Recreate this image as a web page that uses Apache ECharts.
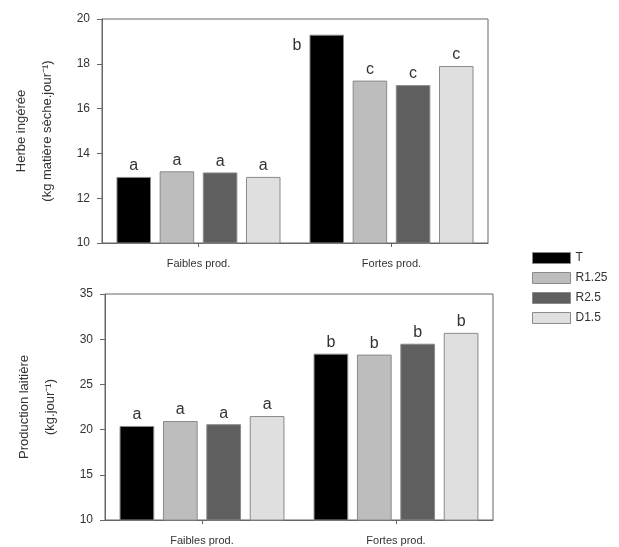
<!DOCTYPE html>
<html>
<head>
<meta charset="utf-8">
<script src="https://cdn.jsdelivr.net/npm/echarts@6/dist/echarts.min.js"></script>
<style>
  html, body { margin: 0; padding: 0; background: #fff; }
  #main { width: 619px; height: 547px; }
</style>
</head>
<body>
<div id="main"></div>
<script>
var categories = ['Faibles prod.', 'Fortes prod.'];
var traitements = ['T', 'R1.25', 'R2.5', 'D1.5'];
var couleurs = ['#000000', '#bdbdbd', '#5f5f5f', '#dfdfdf'];

// herbe ingérée (kg MS/jour)
var herbeT = [12.95, 19.3];
var herbeR125 = [13.2, 17.25];
var herbeR25 = [13.15, 17.05];
var herbeD15 = [12.95, 17.9];
var herbeLettres = [['a', 'b'], ['a', 'c'], ['a', 'c'], ['a', 'c']];

// production laitière (kg/jour)
var laitT = [20.4, 28.4];
var laitR125 = [20.95, 28.3];
var laitR25 = [20.6, 29.5];
var laitD15 = [21.5, 30.7];
var laitLettres = [['a', 'b'], ['a', 'b'], ['a', 'b'], ['a', 'b']];

var herbeTicks = [10, 12, 14, 16, 18, 20];
var laitTicks = [10, 15, 20, 25, 30, 35];

var herbe = [herbeT, herbeR125, herbeR25, herbeD15];
var lait = [laitT, laitR125, laitR25, laitD15];

var axisCol = '#666';
var textCol = '#333';
var font = 'Liberation Sans';

function makeSeries(values, letters, idx) {
    var out = [];
    for (var i = 0; i < 4; i++) {
        out.push({
            name: traitements[i],
            type: 'bar',
            xAxisIndex: idx,
            yAxisIndex: idx,
            barGap: '25%',
            barCategoryGap: '15%',
            itemStyle: { color: couleurs[i], borderColor: '#8a8a8a', borderWidth: 1 },
            label: {
                show: true,
                position: 'top',
                distance: 3,
                color: textCol,
                fontFamily: font,
                fontSize: 16,
                formatter: (function (l) {
                    return function (p) { return l[p.dataIndex]; };
                })(letters[i])
            },
            data: values[i].map(function (v, j) {
                // barre trop haute : lettre placée à gauche
                if (idx === 0 && i === 0 && j === 1) {
                    return { value: v, label: { position: [-17, 3] } };
                }
                return v;
            })
        });
    }
    return out;
}

function yAxis(ticks, idx, name) {
    return {
        type: 'value',
        gridIndex: idx,
        min: ticks[0],
        max: ticks[ticks.length - 1],
        interval: ticks[1] - ticks[0],
        name: name,
        nameLocation: 'middle',
        nameGap: 42,
        nameTextStyle: { color: textCol, fontFamily: font, fontSize: 13, lineHeight: 26 },
        axisLine: { show: true, lineStyle: { color: axisCol } },
        axisTick: { show: true, length: 5, lineStyle: { color: axisCol } },
        axisLabel: { color: textCol, fontFamily: font, fontSize: 12, margin: 12 },
        splitLine: { show: false }
    };
}

function xAxis(idx) {
    return {
        type: 'category',
        gridIndex: idx,
        data: categories,
        axisLine: { lineStyle: { color: axisCol } },
        axisTick: { show: true, alignWithLabel: true, length: 4, lineStyle: { color: axisCol } },
        axisLabel: { color: textCol, fontFamily: font, fontSize: 11, margin: 15 }
    };
}

var chart = echarts.init(document.getElementById('main'));
chart.setOption({
    backgroundColor: '#fff',
    animation: false,
    legend: {
        orient: 'vertical',
        left: 527,
        top: 247,
        itemWidth: 38,
        itemHeight: 11,
        itemGap: 8,
        icon: 'rect',
        data: traitements.map(function (t, i) {
            return { name: t, itemStyle: { color: couleurs[i], borderColor: '#8a8a8a', borderWidth: 1 } };
        }),
        textStyle: { color: textCol, fontFamily: font, fontSize: 12 }
    },
    grid: [
        { left: 96, right: 131, top: 19, bottom: 304, show: true, borderColor: axisCol, borderWidth: 1 },
        { left: 105, right: 126, top: 294, bottom: 27, show: true, borderColor: axisCol, borderWidth: 1 }
    ],
    xAxis: [xAxis(0), xAxis(1)],
    yAxis: [
        yAxis(herbeTicks, 0, 'Herbe ingérée\n(kg matière sèche.jour⁻¹)'),
        yAxis(laitTicks, 1, 'Production laitière\n(kg.jour⁻¹)')
    ],
    series: makeSeries(herbe, herbeLettres, 0).concat(makeSeries(lait, laitLettres, 1))
});
</script>
</body>
</html>
